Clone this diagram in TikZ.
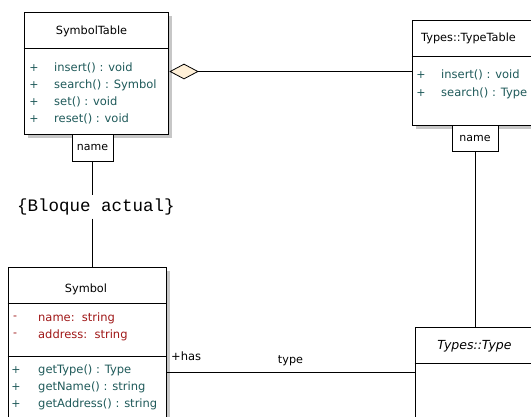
\documentclass[tikz,border=0pt]{standalone}
\usepackage{fontspec}
\setmainfont{DejaVu Sans}
\newfontfamily\monofont{Liberation Mono}
\usetikzlibrary{shapes.geometric,shadows}

\definecolor{opcolor}{HTML}{1F5A5A}
\definecolor{attrcolor}{HTML}{A01818}
\definecolor{aggfill}{HTML}{FFF0D8}

\begin{document}
\begin{tikzpicture}[x=1pt,y=-1pt,
  classbox/.style={draw,line width=1pt,fill=white,rectangle,inner sep=0pt,
    drop shadow={shadow xshift=4pt,shadow yshift=-4pt,opacity=1,fill=black!22}},
  qualbox/.style={draw,line width=0.8pt,fill=white,inner sep=0pt,anchor=north,
    font=\fontsize{11}{13}\selectfont},
  title/.style={font=\fontsize{11.3}{13}\selectfont},
  op/.style={anchor=west,inner sep=0pt,text=opcolor,font=\fontsize{11.5}{13}\selectfont},
  attr/.style={anchor=west,inner sep=0pt,text=attrcolor,font=\fontsize{11.5}{13}\selectfont},
  vis/.style={inner sep=0pt,font=\fontsize{11}{13}\selectfont},
  link/.style={line width=0.8pt}]
  \useasboundingbox (0,0) rectangle (531,416);
  \clip (0,0) rectangle (531,416);

  % SymbolTable
  \node[classbox,minimum width=144pt,minimum height=122pt] (symtab) at (96,73) {};
  \draw[line width=0.8pt] (symtab.west |- 0,48) -- (symtab.east |- 0,48);
  \node[title] (symtabname) at (91.5,31) {SymbolTable};
  \foreach \y/\txt in {68/insert() : void, 85/search() : Symbol, 102/set() : void, 119/reset() : void}
    {\node[vis,text=opcolor] at (34,\y) {+}; \node[op] at (54,\y) {\txt};}
  \node[qualbox,minimum width=41pt,minimum height=27pt] (name1) at (92.5,134) {name};

  % Types::TypeTable
  \node[classbox,minimum width=148pt,minimum height=105pt] (typetab) at (486,72.5) {};
  \draw[line width=0.8pt] (typetab.west |- 0,56) -- (typetab.east |- 0,56);
  \node[title,anchor=west,inner sep=0pt] (typetabname) at (421,38) {Types::TypeTable};
  \foreach \y/\txt in {75/insert() : void, 93/search() : Type}
    {\node[vis,text=opcolor] at (421,\y) {+}; \node[op] at (441,\y) {\txt};}
  \node[qualbox,minimum width=46pt,minimum height=26pt] (name2) at (475,125) {name};

  % Symbol
  \node[classbox,minimum width=158pt,minimum height=173pt] (symbol) at (87,353.5) {};
  \draw[line width=0.8pt] (symbol.west |- 0,303) -- (symbol.east |- 0,303);
  \draw[line width=0.8pt] (symbol.west |- 0,356) -- (symbol.east |- 0,356);
  \node[title] (symbolname) at (86,289) {Symbol};
  \foreach \y/\txt in {318/name:\ \ string, 335/address:\ \ string}
    {\node[vis,text=attrcolor] at (15,\y) {-}; \node[attr] at (38,\y) {\txt};}
  \foreach \y/\txt in {370/getType() : Type, 387/getName() : string, 404/getAddress() : string}
    {\node[vis,text=opcolor] at (16,\y) {+}; \node[op] at (38,\y) {\txt};}

  % Types::Type
  \node[classbox,minimum width=145pt,minimum height=113pt] (typetype) at (487.5,383.5) {};
  \draw[line width=0.8pt] (typetype.west |- 0,363) -- (typetype.east |- 0,363);
  \node[font=\fontsize{12.5}{14}\selectfont\itshape] (typetypename) at (474.5,346) {Types::Type};

  % Relaciones
  \node[font=\monofont\fontsize{17.5}{20}\selectfont] (bloque) at (96,207) {\{Bloque actual\}};
  \draw[link] (name1) -- (name1 |- bloque.north);
  \draw[link] (name1 |- bloque.south) -- (name1 |- symbol.north);
  \node[diamond,draw,line width=0.8pt,fill=aggfill,inner sep=0pt,minimum width=28pt,minimum height=15pt] (agg) at (184,71.5) {};
  \draw[link] (agg.east) -- (agg.east -| typetab.west);
  \draw[link] (name2) -- (name2 |- typetype.north);
  \coordinate (assoc) at (0,372);
  \draw[link] (symbol.east |- assoc) -- (typetype.west |- assoc);
  \node[anchor=west,inner sep=0pt,font=\fontsize{11.5}{13}\selectfont] (has) at (171,356) {+has};
  \node[font=\fontsize{11.2}{13}\selectfont] (typelbl) at (290.5,361) {type};
\end{tikzpicture}
\end{document}
